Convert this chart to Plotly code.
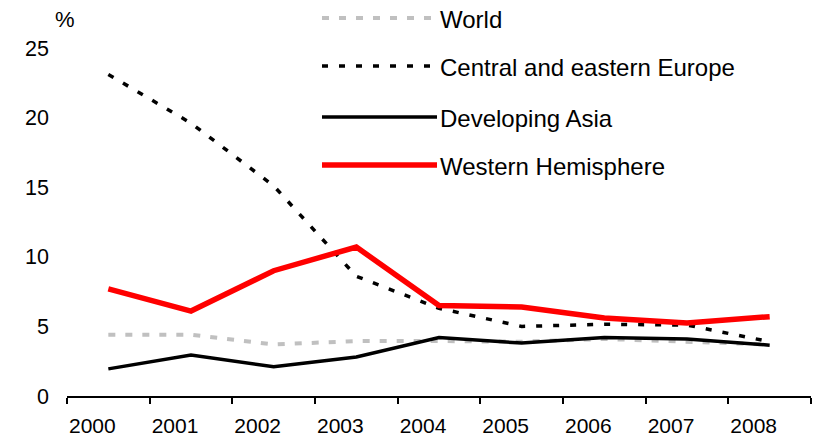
import plotly.graph_objects as go

# Data: annual rates, %
years = ["2000", "2001", "2002", "2003", "2004", "2005", "2006", "2007", "2008"]
world = [4.4, 4.4, 3.7, 3.95, 3.95, 3.9, 4.1, 3.9, 3.7]
central_eastern_europe = [23.1, 19.6, 15.1, 8.6, 6.3, 5.0, 5.15, 5.1, 3.9]
developing_asia = [1.95, 2.95, 2.1, 2.8, 4.2, 3.8, 4.2, 4.1, 3.65]
western_hemisphere = [7.7, 6.1, 9.0, 10.7, 6.5, 6.4, 5.6, 5.25, 5.7]

series_names = ["World", "Central and eastern Europe", "Developing Asia", "Western Hemisphere"]
series_values = [world, central_eastern_europe, developing_asia, western_hemisphere]
series_lines = [
    dict(color="#C0C0C0", width=4, dash="7px,10px"),
    dict(color="black", width=3.5, dash="6px,11px"),
    dict(color="black", width=3.5),
    dict(color="#FF0000", width=5.5),
]

W, H = 815, 439
L, R, T, B = 67, 4, 48, 43
FONT = "Liberation Sans, Arial, sans-serif"

fig = go.Figure()
for name, vals, line in zip(series_names, series_values, series_lines):
    fig.add_trace(go.Scatter(x=years, y=vals, mode="lines", name=name,
                             line=line, showlegend=False))

# Hand-drawn legend with long line samples, placed above/inside the plot
plot_w = W - L - R
plot_h = H - T - B


def px_to_paper_x(px):
    return (px - L) / plot_w


def px_to_paper_y(py):
    return (H - B - py) / plot_h


legend_rows = [18, 66, 117, 165]
sample_x0, sample_x1 = 322, 437
for name, line, row in zip(series_names, series_lines, legend_rows):
    fig.add_shape(type="line", xref="paper", yref="paper",
                  x0=px_to_paper_x(sample_x0), x1=px_to_paper_x(sample_x1),
                  y0=px_to_paper_y(row), y1=px_to_paper_y(row),
                  line=dict(color=line["color"], width=line["width"],
                            dash=line.get("dash", "solid")))
    fig.add_annotation(text=name, xref="paper", yref="paper",
                       x=px_to_paper_x(sample_x1 + 1), y=px_to_paper_y(row + 1),
                       xanchor="left", yanchor="middle", showarrow=False,
                       font=dict(family=FONT, size=24, color="black"))

fig.add_annotation(text="%", xref="paper", yref="paper",
                   x=px_to_paper_x(65), y=px_to_paper_y(20),
                   xanchor="center", yanchor="middle", showarrow=False,
                   font=dict(family=FONT, size=22, color="black"))

fig.update_layout(
    width=W, height=H,
    margin=dict(l=L, r=R, t=T, b=B, pad=0),
    paper_bgcolor="white", plot_bgcolor="white",
    font=dict(family=FONT, size=21, color="black"),
    xaxis=dict(type="category", range=[-0.5, 8.5], tickson="boundaries",
               ticks="outside", ticklen=6, tickwidth=2, tickcolor="black",
               showline=True, linecolor="black", linewidth=2,
               showgrid=False, zeroline=False, automargin=False,
               ticklabelshift=-16, ticklabelstandoff=10),
    yaxis=dict(range=[0, 25], tickmode="array", tickvals=[0, 5, 10, 15, 20, 25],
               showline=False, ticks="", showgrid=False, zeroline=False,
               automargin=False, ticklabelstandoff=17, tickfont=dict(size=21.5)),
)

fig.write_html("out.html")
